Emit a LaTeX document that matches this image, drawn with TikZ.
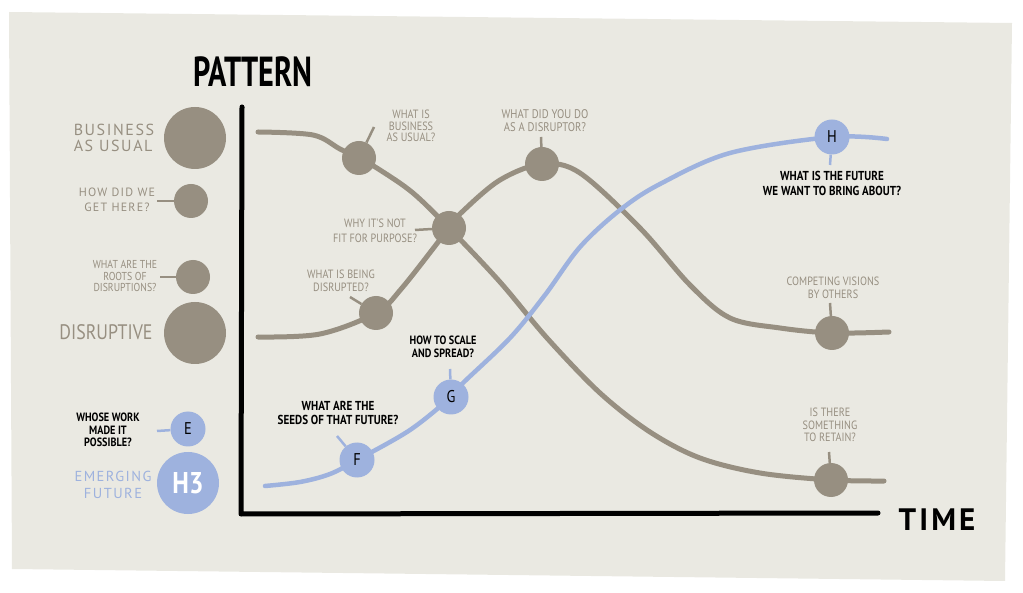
\documentclass[tikz,border=0pt]{standalone}
\usepackage{fontspec}
\usetikzlibrary{positioning}
\newfontfamily\hand[FakeStretch=0.85]{PT Sans}
\newfontfamily\handwide[LetterSpace=10]{PT Sans}
\newfontfamily\handtitle[FakeStretch=0.72]{PT Sans}
\definecolor{card}{RGB}{234,233,226}
\definecolor{stone}{RGB}{151,143,129}
\definecolor{sky}{RGB}{158,178,222}

\tikzset{
  blob/.style={circle, fill=stone, inner sep=0pt, minimum size=34pt},
  skyblob/.style={circle, fill=sky, inner sep=0pt, minimum size=35pt, font=\hand\fontsize{17}{17}\selectfont},
  stonecurve/.style={draw=stone, line width=5pt, line cap=round},
  skycurve/.style={draw=sky, line width=4.5pt, line cap=round},
  stonetick/.style={draw=stone, line width=2.5pt},
  skytick/.style={draw=sky, line width=2.5pt},
  note/.style={align=center, inner sep=0pt, text=stone, font=\hand\fontsize{12}{12.5}\selectfont},
  blacknote/.style={align=center, inner sep=0pt, text=black, font=\hand\bfseries\fontsize{13}{15}\selectfont},
}

\begin{document}
\begin{tikzpicture}[x=1pt, y=-1pt]
  \useasboundingbox (0,0) rectangle (1023,593);

  %card
  \fill[card] (9,12) -- (1012,23) -- (1005,581) -- (12,569) -- cycle;

  %title and axes
  \node[inner sep=0pt, font=\handtitle\bfseries\fontsize{42}{42}\selectfont] (pattern) at (253,72) {PATTERN};
  \coordinate (ytop) at (242,107);
  \coordinate (orig) at (241,514);
  \coordinate (xend) at (878,513);
  \draw[line width=5pt, line cap=round, line join=round] (ytop) -- (orig) -- (xend);
  \node[inner sep=0pt, font=\handwide\bfseries\fontsize{31}{31}\selectfont] (time) at (937,520) {TIME};

  %legend
  \foreach \x/\y/\s/\name in {195/138/62/bau, 191/201/34/how, 193/277/34/roots, 195/333/62/dis}{
    \node[blob, minimum size=\s pt] (\name) at (\x,\y) {};
  }
  \node[skyblob] (e) at (188,429) {E};
  \node[skyblob, minimum size=62pt, text=white, font=\hand\bfseries\fontsize{30}{30}\selectfont] (h3) at (188,483) {H3};

  \node[note, align=left, font=\handwide\fontsize{16}{16}\selectfont] (bautxt) at (114,138) {BUSINESS\\AS USUAL};
  \node[note, font=\handwide\fontsize{12}{15}\selectfont] (howtxt) at (117,200) {HOW DID WE\\GET HERE?};
  \node[note, font=\hand\fontsize{11.5}{11.5}\selectfont] (rootstxt) at (125,276) {WHAT ARE THE\\ROOTS OF\\DISRUPTIONS?};
  \node[note, font=\hand\fontsize{21}{21}\selectfont] (distxt) at (106,332) {DISRUPTIVE};
  \node[blacknote, font=\hand\bfseries\fontsize{12}{12.5}\selectfont] (whosetxt) at (108,430) {WHOSE WORK\\MADE IT\\POSSIBLE?};
  \node[note, text=sky, font=\handwide\fontsize{14.5}{17}\selectfont] (emtxt) at (113,485) {EMERGING\\FUTURE};

  \coordinate (howend) at (157,201);
  \coordinate (rootsend) at (160,277);
  \coordinate (eend) at (157,431);
  \draw[stonetick] (how) -- (howend);
  \draw[stonetick] (roots) -- (rootsend);
  \draw[skytick] (e) -- (eend);

  %curve points
  \coordinate (p1) at (359,158);
  \coordinate (p2) at (449,228);
  \coordinate (p3) at (376,313);
  \coordinate (p4) at (542,164);
  \coordinate (p5) at (832,333);
  \coordinate (p6) at (831,480);
  \coordinate (pf) at (357,460);
  \coordinate (pg) at (451,397);
  \coordinate (ph) at (832,137);

  %business as usual
  \draw[stonecurve] plot[smooth, tension=0.55] coordinates {
    (258,132) (313,135) (340,149) (p1) (380,170) (413,193) (p2) (500,282) (547,338)
    (600,393) (650,432) (700,458) (760,473) (p6) (884,481)};
  %disruptive
  \draw[stonecurve] plot[smooth, tension=0.55] coordinates {
    (258,337) (320,334) (p3) (402,288) (p2) (462,212) (500,180) (p4) (580,173)
    (640,228) (690,285) (730,318) (780,328) (p5) (889,332)};
  %emerging future
  \draw[skycurve] plot[smooth, tension=0.55] coordinates {
    (265,486) (300,482) (330,474) (pf) (410,430) (pg) (463,383) (510,338) (545,295)
    (580,247) (620,210) (660,184) (730,153) (ph) (887,139)};

  %blobs on the curves
  \foreach \p/\name in {p1/whatbau, p2/notfit, p3/beingdis, p4/diddis, p5/compete, p6/retain}{
    \node[blob] (\name) at (\p) {};
  }
  \node[skyblob] (f) at (pf) {F};
  \node[skyblob] (g) at (pg) {G};
  \node[skyblob] (h) at (ph) {H};

  %questions
  \node[note, font=\hand\fontsize{12}{11.5}\selectfont] (whatbautxt) at (411,126) {WHAT IS\\BUSINESS\\AS USUAL?};
  \node[note, font=\hand\fontsize{12}{15}\selectfont] (notfittxt) at (375,231) {WHY IT'S NOT\\FIT FOR PURPOSE?};
  \node[note] (beingdistxt) at (341,281) {WHAT IS BEING\\DISRUPTED?};
  \node[note, font=\hand\fontsize{12.5}{13}\selectfont] (diddistxt) at (545,121) {WHAT DID YOU DO\\AS A DISRUPTOR?};
  \node[note] (competetxt) at (833,288) {COMPETING VISIONS\\BY OTHERS};
  \node[note] (retaintxt) at (830,425) {IS THERE\\SOMETHING\\TO RETAIN?};
  \node[blacknote, font=\hand\bfseries\fontsize{12}{13}\selectfont] (scaletxt) at (443,347) {HOW TO SCALE\\AND SPREAD?};
  \node[blacknote, font=\hand\bfseries\fontsize{13}{14}\selectfont] (seedstxt) at (338,413) {WHAT ARE THE\\SEEDS OF THAT FUTURE?};
  \node[blacknote] (futuretxt) at (832,183) {WHAT IS THE FUTURE\\WE WANT TO BRING ABOUT?};

  %ticks
  \coordinate (whatbauend) at (374,127);
  \coordinate (notfitend) at (415,230);
  \coordinate (beingdisend) at (350,297);
  \coordinate (diddisend) at (541,137);
  \coordinate (competeend) at (830,303);
  \coordinate (retainend) at (829,452);
  \coordinate (fend) at (337,436);
  \coordinate (gend) at (450,369);
  \coordinate (hend) at (830,165);
  \foreach \name in {whatbau, notfit, beingdis, diddis, compete, retain}{
    \draw[stonetick] (\name) -- (\name end);
  }
  \foreach \name in {f, g, h}{
    \draw[skytick] (\name) -- (\name end);
  }
\end{tikzpicture}
\end{document}
